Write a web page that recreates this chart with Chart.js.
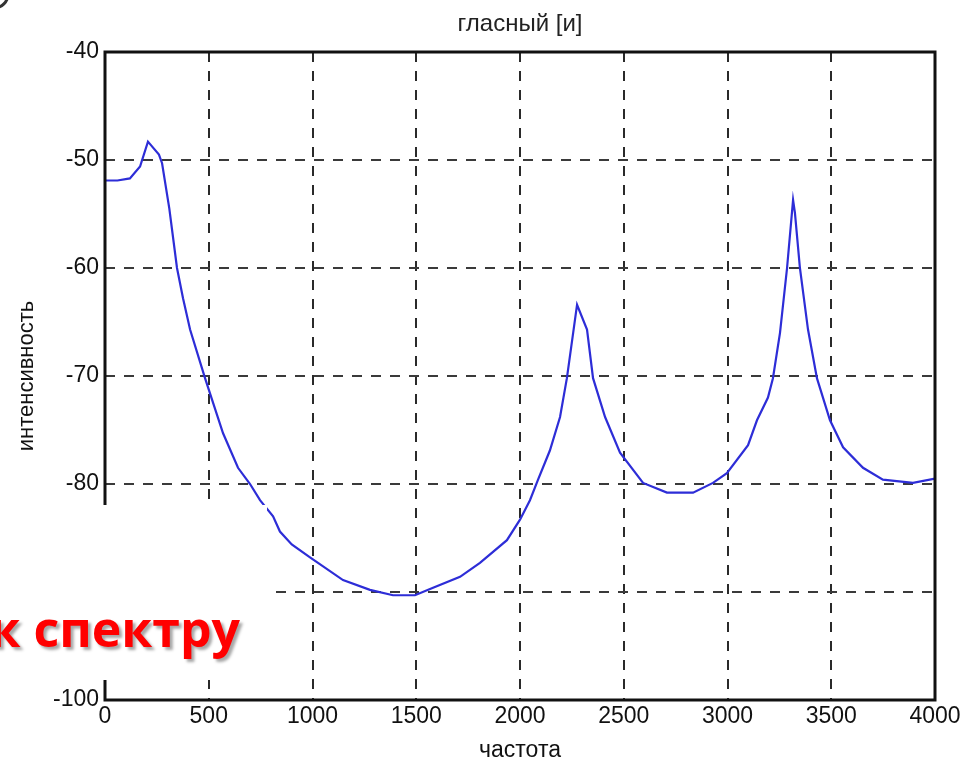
<!DOCTYPE html>
<html>
  <head>
    <title>гласный [и]</title>
    <script src="https://cdn.jsdelivr.net/npm/chart.js@4.4.0/dist/chart.umd.min.js"></script>
    <style>
      body { margin: 0; background: #fff; }
    </style>
  </head>
  <body>
    <canvas id="myChart" width="965" height="768"></canvas>
    <script>
      // spectrum
      const freqs = [0, 60, 120, 169, 207, 260, 275, 310, 347, 376, 410, 482, 569, 641, 699, 747, 810, 843, 900, 988,
        1147, 1277, 1388, 1494, 1581, 1711, 1807, 1937, 2000, 2048, 2087, 2144, 2193, 2226, 2275, 2323, 2352,
        2410, 2482, 2593, 2708, 2834, 2930, 2997, 3099, 3142, 3195, 3219, 3253, 3287, 3316, 3325, 3349, 3388,
        3431, 3494, 3557, 3653, 3749, 3894, 4000];
      const levels = [-51.9, -51.9, -51.7, -50.6, -48.3, -49.5, -50.3, -54.5, -60, -62.8, -65.7, -70.2, -75.3,
        -78.5, -80, -81.5, -83.0, -84.4, -85.6, -86.8, -88.9, -89.8, -90.3, -90.3, -89.6, -88.6, -87.3, -85.2, -83.3,
        -81.5, -79.6, -76.9, -73.8, -70.2, -63.4, -65.7, -70.2, -73.8, -77.1, -79.9, -80.8, -80.8, -79.9, -79,
        -76.4, -74.1, -72.0, -70.2, -66, -60, -53.7, -54.9, -60, -65.7, -70.2, -74.1, -76.6, -78.5, -79.6,
        -79.9, -79.5];
      const xTicks = [0, 500, 1000, 1500, 2000, 2500, 3000, 3500, 4000];
      const yTicks = [-100, -90, -80, -70, -60, -50, -40];

      const tickFont = { family: 'Liberation Sans, Arial, sans-serif', size: 23 };

      // box around the plot, the white patch and the red caption over it
      const overlay = {
        id: 'overlay',
        afterDraw(chart) {
          const ctx = chart.ctx;
          const a = chart.chartArea;
          ctx.save();
          ctx.strokeStyle = '#111';
          ctx.lineWidth = 3;
          ctx.strokeRect(a.left, a.top, a.right - a.left, a.bottom - a.top);

          ctx.fillStyle = '#fff';
          ctx.fillRect(0, 505, 267, 175);

          ctx.font = 'bold 50px "Open Sans", sans-serif';
          ctx.textAlign = 'right';
          ctx.textBaseline = 'alphabetic';
          ctx.shadowColor = 'rgba(0,0,0,0.35)';
          ctx.shadowOffsetX = 3;
          ctx.shadowOffsetY = 3;
          ctx.shadowBlur = 3;
          ctx.fillStyle = '#ff0000';
          ctx.fillText('к спектру', 240, 647);
          ctx.shadowColor = 'transparent';

          ctx.strokeStyle = '#333';
          ctx.lineWidth = 3;
          ctx.beginPath();
          ctx.arc(-6, -6, 14, 0, Math.PI / 2);
          ctx.stroke();
          ctx.restore();
        }
      };

      const ctx = document.getElementById('myChart').getContext('2d');
      const myChart = new Chart(ctx, {
        type: 'line',
        data: {
          datasets: [{
            data: freqs.map((f, i) => ({ x: f, y: levels[i] })),
            borderColor: 'rgb(45,45,215)',
            borderWidth: 2.2,
            pointRadius: 0,
            tension: 0,
            fill: false
          }]
        },
        options: {
          responsive: false,
          animation: false,
          layout: { padding: { left: 0, right: 30, top: 0, bottom: 0 } },
          plugins: {
            legend: { display: false },
            tooltip: { enabled: false },
            title: {
              display: true,
              text: 'гласный [и]',
              fullSize: false,
              color: '#222',
              font: { family: 'Liberation Sans, Arial, sans-serif', size: 24, weight: 'normal' },
              padding: { top: 10, bottom: 13.2 }
            }
          },
          scales: {
            x: {
              type: 'linear',
              min: 0,
              max: 4000,
              afterBuildTicks: s => { s.ticks = xTicks.map(v => ({ value: v })); },
              afterFit: s => { s.height = 68; },
              ticks: { color: '#111', font: tickFont, padding: 3, maxRotation: 0, callback: v => String(v) },
              grid: { color: '#2a2a2a', lineWidth: 2, drawTicks: false },
              border: { display: false, dash: [10, 9] },
              title: {
                display: true,
                text: 'частота',
                color: '#111',
                font: tickFont,
                padding: { top: 0, bottom: 4 }
              }
            },
            y: {
              min: -100,
              max: -40,
              afterBuildTicks: s => { s.ticks = yTicks.map(v => ({ value: v })); },
              afterFit: s => { s.width = 105; },
              ticks: { color: '#111', font: tickFont, padding: 6, callback: v => String(v) },
              grid: { color: '#3a3a3a', lineWidth: 2, drawTicks: false },
              border: { display: false, dash: [10, 9] },
              title: {
                display: true,
                text: 'интенсивность',
                color: '#111',
                font: { family: 'Liberation Sans, Arial, sans-serif', size: 22 },
                padding: { top: 14, bottom: 0 }
              }
            }
          }
        },
        plugins: [overlay]
      });
    </script>
  </body>
</html>
